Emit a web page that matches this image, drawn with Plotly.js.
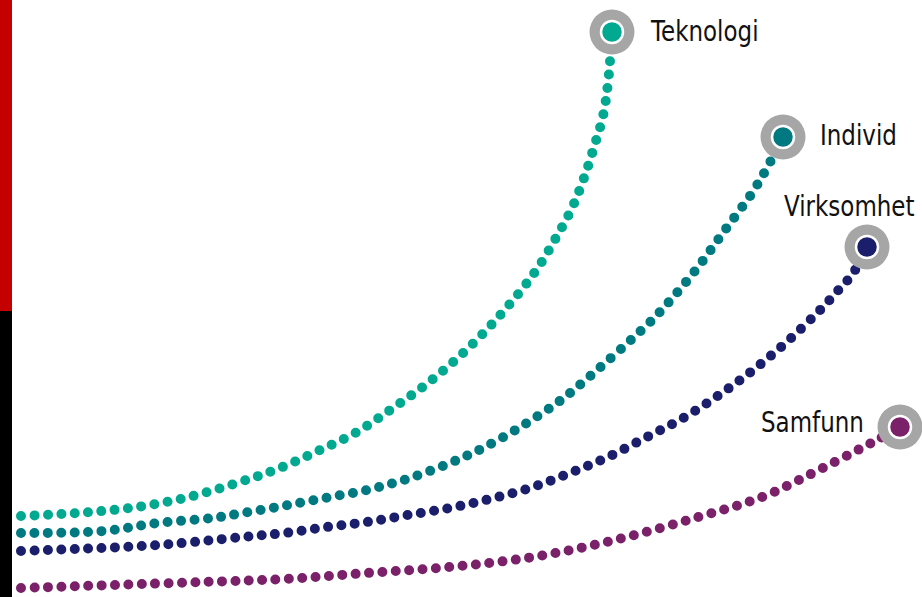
<!DOCTYPE html>
<html>
<head>
<meta charset="utf-8">
<script src="https://cdn.plot.ly/plotly-3.0.1.min.js"></script>
<style>
  html, body { margin: 0; padding: 0; background: #ffffff; }
  #chart { width: 922px; height: 597px; }
  .scatterlayer .js-line { stroke-linecap: round !important; }
  .annotation-text { transform-box: fill-box; transform-origin: center; transform: scaleY(1.2); }
</style>
</head>
<body>
<div id="chart"></div>
<script>
// Series names and colours
const seriesNames = ["Teknologi", "Individ", "Virksomhet", "Samfunn"];
const seriesColors = ["#00A98F", "#007A80", "#1B1F6B", "#7A2169"];

// Curve values (x: progression, y: level)
const teknologiX = [21, 77, 130, 185, 240, 280, 318, 357, 393, 428, 462, 493, 523, 541, 557, 572, 584, 594, 603, 608, 612];
const teknologiY = [81, 84, 89, 99, 115, 129, 146, 165, 189, 214, 243, 274, 309, 334, 361, 389, 419, 450, 481, 514, 565];

const individX = [21, 103, 158, 213, 243, 283, 325, 367, 407, 450, 483, 522, 557, 582, 647, 668, 698, 725, 752, 768, 783];
const individY = [64, 66, 74, 79, 84, 91, 99, 107, 118, 134, 149, 171, 194, 214, 272, 294, 330, 367, 404, 431, 460];

const virksomhetX = [21, 158, 243, 285, 327, 367, 408, 450, 490, 530, 570, 608, 647, 685, 722, 757, 790, 822, 843, 852, 867];
const virksomhetY = [46, 52, 60, 64, 70, 75, 82, 89, 98, 109, 124, 140, 160, 180, 204, 230, 258, 289, 312, 322, 350];

const samfunnX = [21, 203, 285, 367, 450, 533, 615, 695, 762, 813, 852, 877, 900];
const samfunnY = [9, 15, 18, 24, 30, 40, 57, 79, 100, 124, 144, 157, 170];

const allX = [teknologiX, individX, virksomhetX, samfunnX];
const allY = [teknologiY, individY, virksomhetY, samfunnY];

// Label placement relative to each end marker
const labelAnchor = ["left", "left", "center", "right"];
const labelShiftX = [36, 35, -18, -34];
const labelShiftY = [1, 2, 41, 5];

const traces = [];
// dotted curves
for (let i = 0; i < 4; i++) {
  traces.push({
    x: allX[i], y: allY[i], type: "scatter", mode: "lines",
    line: { color: seriesColors[i], width: 10, shape: "spline", smoothing: 1, dash: "0px,13.4px" },
    hoverinfo: "skip", showlegend: false
  });
}
// grey rings at end points
for (let i = 0; i < 4; i++) {
  const n = allX[i].length - 1;
  traces.push({
    x: [allX[i][n]], y: [allY[i][n]], type: "scatter", mode: "markers",
    marker: { size: 45, color: "#A6A6A6", line: { width: 0 } },
    hoverinfo: "skip", showlegend: false
  });
}
// coloured end markers
for (let i = 0; i < 4; i++) {
  const n = allX[i].length - 1;
  traces.push({
    x: [allX[i][n]], y: [allY[i][n]], type: "scatter", mode: "markers",
    marker: { size: 22, color: seriesColors[i], line: { width: 2.5, color: "#ffffff" } },
    name: seriesNames[i], showlegend: false
  });
}

const annotations = seriesNames.map((name, i) => {
  const n = allX[i].length - 1;
  return {
    x: allX[i][n], y: allY[i][n], xref: "x", yref: "y",
    text: name, showarrow: false,
    xanchor: labelAnchor[i], yanchor: "middle",
    xshift: labelShiftX[i], yshift: labelShiftY[i],
    font: { family: "DejaVu Sans, Verdana, sans-serif", size: 23, color: "#111111" }
  };
});

const layout = {
  width: 922, height: 597,
  margin: { l: 0, r: 0, t: 0, b: 0 },
  paper_bgcolor: "#ffffff", plot_bgcolor: "#ffffff",
  xaxis: { range: [0, 922], visible: false, fixedrange: true },
  yaxis: { range: [0, 597], visible: false, fixedrange: true },
  annotations: annotations,
  shapes: [
    { type: "rect", xref: "paper", yref: "paper", x0: 0, x1: 12 / 922, y0: 286 / 597, y1: 1, fillcolor: "#C40000", line: { width: 0 }, layer: "above" },
    { type: "rect", xref: "paper", yref: "paper", x0: 0, x1: 12 / 922, y0: 0, y1: 286 / 597, fillcolor: "#000000", line: { width: 0 }, layer: "above" }
  ],
  showlegend: false
};

Plotly.newPlot("chart", traces, layout, { displayModeBar: false, staticPlot: true });
</script>
</body>
</html>
